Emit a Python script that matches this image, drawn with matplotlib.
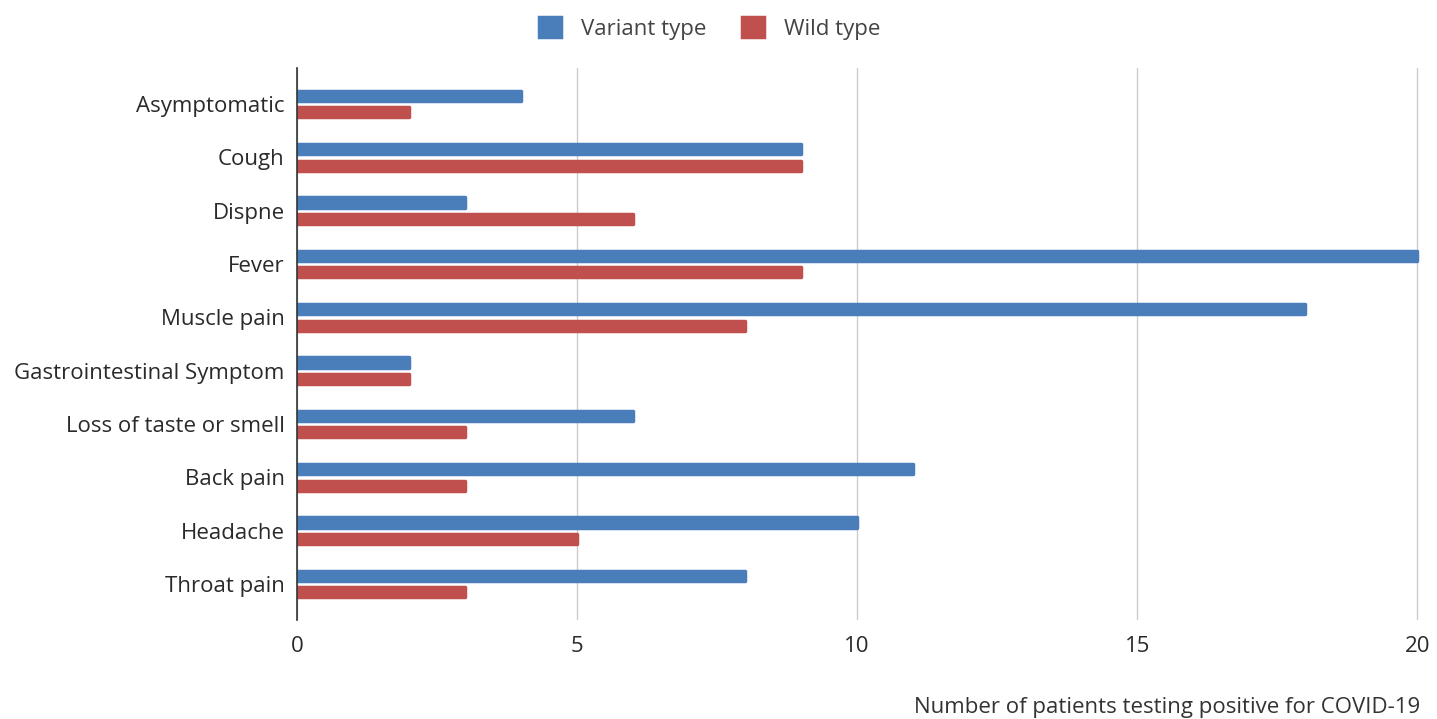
import numpy as np
import matplotlib.pyplot as plt

symptoms = ['Asymptomatic', 'Cough', 'Dispne', 'Fever', 'Muscle pain',
            'Gastrointestinal Symptom', 'Loss of taste or smell', 'Back pain',
            'Headache', 'Throat pain']
variant = [4, 9, 3, 20, 18, 2, 6, 11, 10, 8]
wild = [2, 9, 6, 9, 8, 2, 3, 3, 5, 3]
xticks = [0, 5, 10, 15, 20]

plt.rcParams['font.family'] = ['Open Sans', 'DejaVu Sans']
fs = 16

fig = plt.figure(figsize=(14.37, 7.19), dpi=100)
ax = fig.add_axes([0.2067, 0.138, 0.7815, 0.767])

y = np.arange(len(symptoms))
h = 0.19
blue = '#4a7ebb'
red = '#c0504d'
ax.barh(y - 0.155, variant, height=h, color=blue, edgecolor=blue,
        linewidth=2.5, joinstyle='round', label='Variant type', zorder=3)
ax.barh(y + 0.155, wild, height=h, color=red, edgecolor=red,
        linewidth=2.5, joinstyle='round', label='Wild type', zorder=3)

ax.set_xlim(0, 20.05)
ax.set_ylim(9.67, -0.67)
ax.set_yticks(y)
ax.set_yticklabels(symptoms, fontsize=fs, color='#2a2a2a')
ax.set_xticks(xticks)
ax.set_xticklabels([str(t) for t in xticks], fontsize=fs, color='#2a2a2a')
ax.tick_params(length=0)
ax.tick_params(axis='x', pad=12)
ax.tick_params(axis='y', pad=9)
ax.xaxis.grid(True, color='#cccccc', linewidth=1, zorder=0)
for s in ['top', 'right', 'bottom']:
    ax.spines[s].set_visible(False)
ax.spines['left'].set_color('#333333')
ax.spines['left'].set_linewidth(1.2)
ax.spines['left'].set_zorder(4)

fig.legend(loc='upper center', bbox_to_anchor=(0.494, 1.004), ncol=2,
           frameon=False, fontsize=fs, handlelength=1.0, handleheight=1.0,
           columnspacing=1.6, handletextpad=0.9, labelcolor='#444444')

fig.text(0.988, 0.0085, 'Number of patients testing positive for COVID-19',
         ha='right', va='baseline', fontsize=fs, color='#333333')

fig.savefig('out.png', dpi=100)
